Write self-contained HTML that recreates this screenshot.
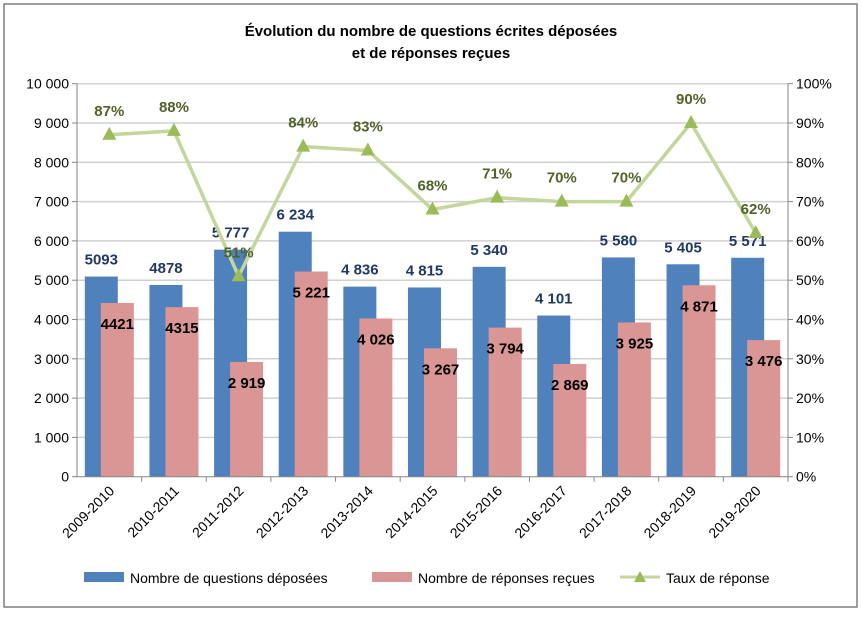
<!DOCTYPE html>
<html><head><meta charset="utf-8"><style>
body{margin:0;background:#fff;font-family:"Liberation Sans",sans-serif}
svg text{font-family:"Liberation Sans",sans-serif}
</style></head><body>
<svg width="862" height="613">
<rect x="4" y="4" width="853" height="603" fill="#fff" stroke="#7f7f7f" stroke-width="1.5"/>
<text x="431" y="36" text-anchor="middle" font-size="15" font-weight="bold">Évolution du nombre de questions écrites déposées</text>
<text x="431" y="58" text-anchor="middle" font-size="15" font-weight="bold">et de réponses reçues</text>
<g id="grid"></g><g id="bars"></g><g id="line"></g><g id="axes"></g>
<g>
<rect x="84" y="572" width="40" height="10" fill="#4F81BD"/>
<text x="130" y="583" font-size="14">Nombre de questions déposées</text>
<rect x="372" y="572" width="40" height="10" fill="#D99694"/>
<text x="418" y="583" font-size="14">Nombre de réponses reçues</text>
<line x1="620" y1="577" x2="660" y2="577" stroke="#C3D69B" stroke-width="3"/>
<polygon points="640,571 646,582 634,582" fill="#9BBB59"/>
<text x="666" y="583" font-size="14">Taux de réponse</text>
</g>
</svg>
<script>
const categories=["2009-2010","2010-2011","2011-2012","2012-2013","2013-2014","2014-2015","2015-2016","2016-2017","2017-2018","2018-2019","2019-2020"];
const questions=[5093,4878,5777,6234,4836,4815,5340,4101,5580,5405,5571];
const questionLabels=["5093","4878","5 777","6 234","4 836","4 815","5 340","4 101","5 580","5 405","5 571"];
const reponses=[4421,4315,2919,5221,4026,3267,3794,2869,3925,4871,3476];
const reponseLabels=["4421","4315","2 919","5 221","4 026","3 267","3 794","2 869","3 925","4 871","3 476"];
const taux=[87,88,51,84,83,68,71,70,70,90,62];
const leftTicks=["0","1 000","2 000","3 000","4 000","5 000","6 000","7 000","8 000","9 000","10 000"];
const rightTicks=["0%","10%","20%","30%","40%","50%","60%","70%","80%","90%","100%"];

const NS="http://www.w3.org/2000/svg";
const X0=77,X1=788,Y0=476.7,Y1=83.7;
const step=(X1-X0)/categories.length;
const cx=i=>X0+step*(i+0.5);
const yL=v=>Y0-(v/10000)*(Y0-Y1);
const yR=v=>Y0-(v/100)*(Y0-Y1);
function mk(tag,attrs,parent,txt){const e=document.createElementNS(NS,tag);for(const k in attrs)e.setAttribute(k,attrs[k]);if(txt!==undefined)e.textContent=txt;document.getElementById(parent).appendChild(e);return e;}

leftTicks.forEach((t,i)=>{
  const y=yL(i*1000);
  if(i>0){const g=mk('line',{x1:X0,x2:X1,y1:y,y2:y,stroke:'#d0d0d0','stroke-width':1.5},'grid');
  
  }
  const a=mk('text',{x:X0-8,y:y+5,'text-anchor':'end','font-size':14},'axes',t);
  
  
  const b=mk('text',{x:X1+8,y:yR(i*10)+5,'text-anchor':'start','font-size':14},'axes',rightTicks[i]);
  
  
  const m=mk('line',{x1:X0-5,x2:X0,y1:y,y2:y,stroke:'#868686'},'axes');
  
  
  const n=mk('line',{x1:X1,x2:X1+5,y1:y,y2:y,stroke:'#868686'},'axes');
  
  
});
[['line',{x1:X0,x2:X0,y1:Y1,y2:Y0,stroke:'#868686'},'y-axis-left'],['line',{x1:X1,x2:X1,y1:Y1,y2:Y0,stroke:'#868686'},'y-axis-right'],['line',{x1:X0,x2:X1,y1:Y0,y2:Y0,stroke:'#868686'},'x-axis']].forEach(d=>{
  const e=mk(d[0],d[1],'axes');
  
  
});
categories.forEach((c,i)=>{
  const x=cx(i);
  const tk=mk('line',{x1:X0+step*(i+1),x2:X0+step*(i+1),y1:Y0,y2:Y0+5,stroke:'#868686'},'axes');
  
  
  const b=mk('rect',{x:x-24.5,y:yL(questions[i]),width:33,height:Y0-yL(questions[i]),fill:'#4F81BD'},'bars');
  
  
  const p=mk('rect',{x:x-8.5,y:yL(reponses[i]),width:33,height:Y0-yL(reponses[i]),fill:'#D99694'},'bars');
  
  
  const ql=mk('text',{x:x-8,y:yL(questions[i])-12,'text-anchor':'middle','font-size':15,'font-weight':'bold',fill:'#1F3864'},'bars',questionLabels[i]);
  
  
  const rl=mk('text',{x:x+8,y:yL(reponses[i])+26,'text-anchor':'middle','font-size':15,'font-weight':'bold',fill:'#000'},'bars',reponseLabels[i]);
  
  
  const xl=mk('text',{x:x+6,y:Y0+15,'text-anchor':'end','font-size':14,transform:`rotate(-45 ${x+6} ${Y0+15})`},'axes',c);
  
  
});
const pl=mk('polyline',{points:taux.map((t,i)=>cx(i)+','+yR(t)).join(' '),fill:'none',stroke:'#C3D69B','stroke-width':3.5},'line');


taux.forEach((t,i)=>{
  const x=cx(i),y=yR(t);
  const m=mk('polygon',{points:`${x},${y-8} ${x+7},${y+5} ${x-7},${y+5}`,fill:'#9BBB59'},'line');
  
  
  const l=mk('text',{x:x,y:y-19,'text-anchor':'middle','font-size':15,'font-weight':'bold',fill:'#4F6228'},'line',t+'%');
  
  
});
</script>
</body></html>
